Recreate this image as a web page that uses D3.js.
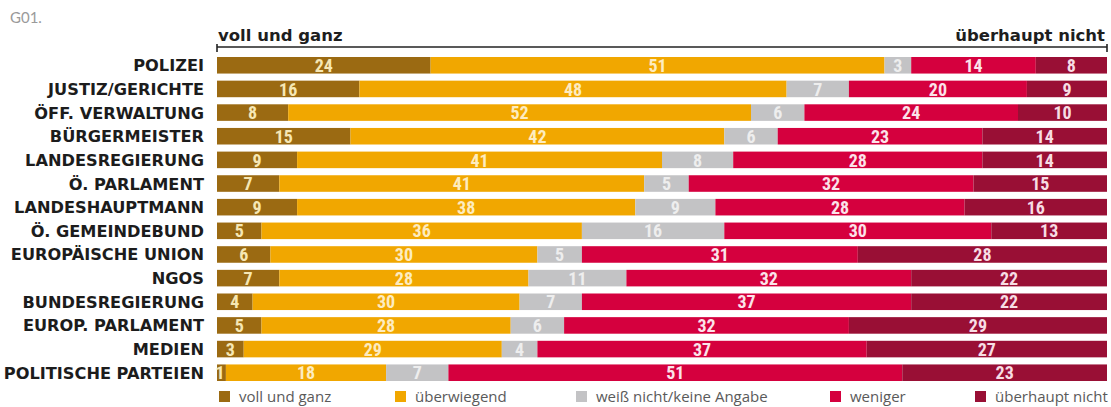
<!DOCTYPE html>
<html>
<head>
<meta charset="utf-8">
<script src="https://cdn.jsdelivr.net/npm/d3@7"></script>
<style>
  body { margin: 0; background: #fff; }
</style>
</head>
<body>
<svg id="chart"></svg>
<script>
// Institutions, top to bottom
const institutions = [
  "POLIZEI", "JUSTIZ/GERICHTE", "ÖFF. VERWALTUNG", "BÜRGERMEISTER",
  "LANDESREGIERUNG", "Ö. PARLAMENT", "LANDESHAUPTMANN", "Ö. GEMEINDEBUND",
  "EUROPÄISCHE UNION", "NGOS", "BUNDESREGIERUNG", "EUROP. PARLAMENT",
  "MEDIEN", "POLITISCHE PARTEIEN"
];

const answers = ["voll und ganz", "überwiegend", "weiß nicht/keine Angabe", "weniger", "überhaupt nicht"];

// Percent per answer, same order as institutions
const vollUndGanz    = [24, 16, 8, 15, 9, 7, 9, 5, 6, 7, 4, 5, 3, 1];
const ueberwiegend   = [51, 48, 52, 42, 41, 41, 38, 36, 30, 28, 30, 28, 29, 18];
const weissNicht     = [3, 7, 6, 6, 8, 5, 9, 16, 5, 11, 7, 6, 4, 7];
const weniger        = [14, 20, 24, 23, 28, 32, 28, 30, 31, 32, 37, 32, 37, 51];
const ueberhauptNich = [8, 9, 10, 14, 14, 15, 16, 13, 28, 22, 22, 29, 27, 23];

const series = [vollUndGanz, ueberwiegend, weissNicht, weniger, ueberhauptNich];

const colors = ["#9b6a12", "#f1a700", "#c3c3c5", "#d5003e", "#990f35"];
const labelColors = ["#f6e7b4", "#fdecc0", "#eeeeee", "#fbe3ea", "#f7dde4"];

const width = 1111;
const height = 407;
const margin = { top: 57, right: 4, bottom: 26, left: 217 };

const svg = d3.select("#chart").attr("width", width).attr("height", height);

const rows = institutions.map((name, i) => {
  const r = { name };
  answers.forEach((a, k) => { r[a] = series[k][i]; });
  return r;
});

const stacked = d3.stack().keys(answers)(rows);

const x = d3.scaleLinear()
  .domain([0, 100])
  .range([margin.left, width - margin.right]);

const y = d3.scaleBand()
  .domain(institutions)
  .range([margin.top, height - margin.bottom])
  .paddingInner(0.3)
  .paddingOuter(0);

const numFont = "'Liberation Sans Narrow', 'Roboto Condensed', 'Roboto', sans-serif";
const labelFont = "'DejaVu Sans', sans-serif";

// G01 tag
svg.append("text")
  .attr("x", 10).attr("y", 23)
  .style("font-family", "Lato, sans-serif")
  .style("font-size", "15px")
  .attr("fill", "#9a9a9a")
  .text("G01.");

// Scale line on top
const axisY = 47;
svg.append("line")
  .attr("x1", x(0)).attr("x2", x(100))
  .attr("y1", axisY).attr("y2", axisY)
  .attr("stroke", "#222").attr("stroke-width", 1.6);
[0, 100].forEach(v => {
  svg.append("line")
    .attr("x1", x(v)).attr("x2", x(v))
    .attr("y1", axisY - 3).attr("y2", axisY + 5)
    .attr("stroke", "#222").attr("stroke-width", 1.6);
});

svg.append("text")
  .attr("x", x(0) + 1).attr("y", axisY - 6)
  .style("font-family", labelFont)
  .style("font-size", "16.5px").style("font-weight", "bold")
  .attr("fill", "#1e1e1e")
  .text("voll und ganz");

svg.append("text")
  .attr("x", x(100) - 2).attr("y", axisY - 6)
  .attr("text-anchor", "end")
  .style("font-family", labelFont)
  .style("font-size", "16.5px").style("font-weight", "bold")
  .attr("fill", "#1e1e1e")
  .text("überhaupt nicht");

// Row labels
svg.append("g")
  .selectAll("text")
  .data(institutions)
  .join("text")
  .attr("x", 204)
  .attr("y", d => y(d) + y.bandwidth() / 2)
  .attr("dy", "0.37em")
  .attr("text-anchor", "end")
  .style("font-family", labelFont)
  .style("font-size", "16.2px")
  .style("font-weight", "bold")
  .attr("fill", "#1c1c1c")
  .text(d => d);

// Bars
const layer = svg.append("g")
  .selectAll("g")
  .data(stacked)
  .join("g")
  .attr("fill", (d, i) => colors[i]);

layer.selectAll("rect")
  .data(d => d)
  .join("rect")
  .attr("x", d => x(d[0]))
  .attr("y", d => y(d.data.name))
  .attr("width", d => x(d[1]) - x(d[0]))
  .attr("height", y.bandwidth());

// Value labels
svg.append("g")
  .selectAll("g")
  .data(stacked)
  .join("g")
  .attr("fill", (d, i) => labelColors[i])
  .selectAll("text")
  .data(d => d)
  .join("text")
  .attr("x", d => d[1] - d[0] <= 1 ? x(d[0]) + 3 : (x(d[0]) + x(d[1])) / 2)
  .attr("y", d => y(d.data.name) + y.bandwidth() / 2)
  .attr("dy", "0.37em")
  .attr("text-anchor", "middle")
  .style("font-family", numFont)
  .style("font-size", "18px")
  .style("font-weight", "bold")
  .text(d => d[1] - d[0]);

// Legend
const legendX = [219, 395, 576, 830, 975];
const legend = svg.append("g")
  .selectAll("g")
  .data(answers)
  .join("g")
  .attr("transform", (d, i) => `translate(${legendX[i]}, 391)`);

legend.append("rect")
  .attr("width", 11).attr("height", 11)
  .attr("fill", (d, i) => colors[i]);

legend.append("text")
  .attr("x", 20).attr("y", 5.5)
  .attr("dy", "0.36em")
  .style("font-family", "'Open Sans', sans-serif")
  .style("font-size", "15px")
  .attr("fill", "#5a5a5a")
  .text(d => d);
</script>
</body>
</html>
